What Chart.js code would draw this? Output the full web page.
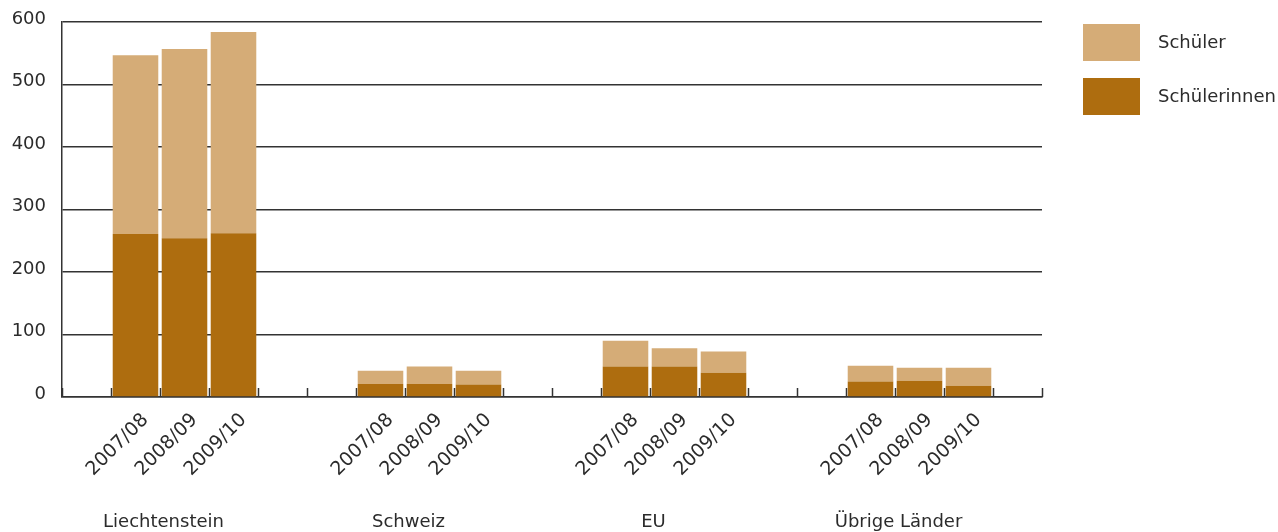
<!DOCTYPE html>
<html>
<head>
<meta charset="utf-8">
<script src="https://cdn.jsdelivr.net/npm/chart.js@4"></script>
<style>
  html,body{margin:0;padding:0;background:#fff;}
  #wrap{width:1278px;height:532px;position:relative;}
</style>
</head>
<body>
<div id="wrap"><canvas id="chart"></canvas></div>
<script>
// ---------------- Daten ----------------
const regionen = ["Liechtenstein","Schweiz","EU","Übrige Länder"];
const jahre = ["2007/08","2008/09","2009/10"];
// Schülerinnen (unten, dunkel)
const schuelerinnenLI = [261,254,262];
const schuelerinnenCH = [21,21,20];
const schuelerinnenEU = [49,49,39];
const schuelerinnenUE = [25,26,18];
// Schüler (oben, hell)
const schuelerLI = [286,303,322];
const schuelerCH = [21,28,22];
const schuelerEU = [41,29,34];
const schuelerUE = [25,21,29];
const yTicks = [0,100,200,300,400,500,600];

const farbeHell = "#D5AC77";
const farbeDunkel = "#AE6D0F";
const textFarbe = "#2b2b2b";
const FONT = "'DejaVu Sans', sans-serif";

// Kategorien mit Lücken zwischen den Gruppen: 1 leer, 3 Balken, 2 leer ... 1 leer
const labels=[], dInnen=[], dSchueler=[], gruppenMitte=[];
const innenGruppen=[schuelerinnenLI,schuelerinnenCH,schuelerinnenEU,schuelerinnenUE];
const schuelerGruppen=[schuelerLI,schuelerCH,schuelerEU,schuelerUE];
labels.push(""); dInnen.push(null); dSchueler.push(null);
regionen.forEach((r,g)=>{
  jahre.forEach((j,k)=>{
    if(k===1) gruppenMitte.push(labels.length);
    labels.push(j); dInnen.push(innenGruppen[g][k]); dSchueler.push(schuelerGruppen[g][k]);
  });
  const leer = g<regionen.length-1 ? 2 : 1;
  for(let i=0;i<leer;i++){ labels.push(""); dInnen.push(null); dSchueler.push(null); }
});

// ---------------- Plugins ----------------
const extras = {
  id:"extras",
  beforeDatasetsDraw(chart){
    const {ctx, chartArea:a, scales:{x}} = chart;
    const n = labels.length, w = (a.right-a.left)/n;
    ctx.save();
    ctx.strokeStyle="#333"; ctx.lineWidth=1.5;
    for(let i=0;i<=n;i++){
      const px = Math.round(x.left + i*w)+0.5;
      ctx.beginPath(); ctx.moveTo(px,a.bottom-9); ctx.lineTo(px,a.bottom); ctx.stroke();
    }
    ctx.restore();
  },
  afterDraw(chart){
    const {ctx, scales:{x}} = chart;
    ctx.save();
    ctx.fillStyle=textFarbe; ctx.font="18px "+FONT;
    ctx.textAlign="center"; ctx.textBaseline="middle";
    regionen.forEach((r,g)=>{
      ctx.fillText(r, x.getPixelForValue(gruppenMitte[g])-21, 522);
    });
    // Legende
    const items = [chart.data.datasets[1], chart.data.datasets[0]];
    ctx.textAlign="left";
    items.forEach((ds,i)=>{
      const y0 = 24 + i*54;
      ctx.fillStyle=ds.backgroundColor;
      ctx.fillRect(1083,y0,57,37);
      ctx.fillStyle=textFarbe;
      ctx.fillText(ds.label,1158,y0+19);
    });
    ctx.restore();
  }
};

new Chart(document.getElementById("chart"),{
  type:"bar",
  data:{
    labels:labels,
    datasets:[
      {label:"Schülerinnen", data:dInnen, backgroundColor:farbeDunkel},
      {label:"Schüler", data:dSchueler, backgroundColor:farbeHell}
    ]
  },
  options:{
    responsive:true, maintainAspectRatio:false, animation:false,
    layout:{padding:{top:22,right:236,left:0,bottom:0}},
    datasets:{bar:{categoryPercentage:1, barPercentage:0.93}},
    plugins:{legend:{display:false}, tooltip:{enabled:false}},
    scales:{
      x:{
        stacked:true,
        grid:{display:false},
        border:{display:true,color:"#333",width:1.5},
        ticks:{color:textFarbe, font:{family:FONT,size:19}, minRotation:45, maxRotation:45, autoSkip:false, padding:4, labelOffset:10},
        afterFit(s){ s.height=135; s.paddingLeft=0; s.paddingRight=0; }
      },
      y:{
        stacked:true, min:0, max:600,
        afterBuildTicks(s){ s.ticks = yTicks.map(v=>({value:v})); },
        grid:{color:"#333", lineWidth:1.5, drawTicks:false},
        border:{display:true,color:"#333",width:1.5},
        ticks:{color:textFarbe, font:{family:FONT,size:18}, padding:16, labelOffset:-3},
        afterFit(s){ s.width=62; s.paddingTop=0; s.paddingBottom=0; }
      }
    }
  },
  plugins:[extras]
});
</script>
</body>
</html>
